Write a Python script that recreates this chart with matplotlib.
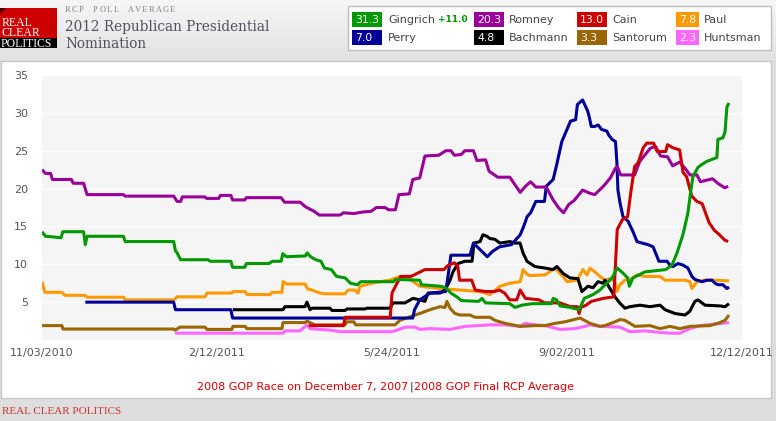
import numpy as np
import pandas as pd
import matplotlib
matplotlib.use('Agg')
import matplotlib.pyplot as plt
from matplotlib.patches import Rectangle, Polygon

# time axis
start_date = '2010-11-03'
end_date = '2011-12-12'
tick_dates = ['2010-11-03', '2011-02-12', '2011-05-24', '2011-09-02', '2011-12-12']
tick_labels = ['11/03/2010', '2/12/2011', '5/24/2011', '9/02/2011', '12/12/2011']
y_ticks = [5, 10, 15, 20, 25, 30, 35]

# RCP averages, x = days after 11/03/2010
romney_days = [0, 2, 5, 6, 17, 18, 24, 26, 47, 48, 76, 78, 80, 81, 94, 95, 102, 103, 109, 110,
               117, 118, 138, 140, 149, 152, 157, 160, 172, 174, 180, 185, 190, 193, 198, 200,
               204, 206, 212, 214, 218, 221, 229, 233, 236, 238, 242, 244, 249, 251, 256, 258,
               263, 270, 273, 276, 279, 282, 285, 291, 295, 298, 301, 304, 307, 312, 316, 319,
               324, 328, 331, 332, 334, 342, 345, 351, 354, 357, 361, 364, 368, 371, 374, 378,
               380, 387, 390, 394, 396]
romney_vals = [22.5, 22.0, 22.0, 21.2, 21.2, 20.7, 20.7, 19.2, 19.2, 19.0, 19.0, 18.3, 18.3, 18.9,
               18.9, 18.7, 18.7, 19.1, 19.1, 18.5, 18.5, 18.8, 18.8, 18.2, 18.2, 17.6, 17.0, 16.5,
               16.5, 16.8, 16.7, 16.9, 17.0, 17.5, 17.5, 17.2, 17.2, 19.2, 19.3, 21.2, 21.4, 24.3,
               24.4, 25.0, 25.0, 24.4, 24.5, 25.0, 25.0, 23.7, 23.8, 22.3, 21.5, 21.5, 20.5, 19.5,
               20.3, 20.9, 20.2, 20.2, 18.5, 17.5, 16.8, 17.9, 18.4, 19.8, 19.4, 19.2, 20.3, 21.4,
               22.7, 22.9, 21.8, 21.8, 23.6, 25.3, 25.6, 24.3, 24.2, 23.0, 23.5, 22.7, 21.8, 21.8,
               20.9, 21.3, 20.7, 20.1, 20.3]

gingrich_days = [0, 2, 7, 11, 12, 24, 25, 26, 47, 48, 76, 77, 78, 80, 96, 97, 109, 110, 117, 118,
                 131, 133, 138, 139, 141, 152, 153, 155, 158, 161, 163, 167, 170, 175, 178, 182,
                 184, 203, 204, 218, 219, 230, 233, 236, 240, 242, 252, 254, 256, 270, 273, 277,
                 283, 294, 295, 297, 299, 305, 310, 313, 318, 322, 325, 329, 332, 335, 338, 339,
                 341, 348, 360, 363.6, 366.5, 369.9, 372.8, 374.5, 375.7, 378.6, 380.9, 383.8,
                 389.5, 390.1, 393, 394.2, 395.3, 396.5]
gingrich_vals = [14.3, 13.7, 13.6, 13.5, 14.3, 14.3, 12.6, 13.7, 13.7, 13.0, 13.0, 11.8, 11.5,
                 10.6, 10.6, 10.4, 10.4, 9.6, 9.6, 10.1, 10.1, 10.4, 10.4, 11.4, 11.0, 11.1, 11.5,
                 11.0, 10.6, 10.4, 9.5, 9.3, 8.4, 8.2, 7.5, 7.3, 7.7, 7.7, 8.0, 7.9, 7.3, 7.1, 6.9,
                 6.2, 5.6, 5.2, 5.1, 5.5, 4.9, 4.8, 4.3, 4.6, 4.8, 4.8, 5.5, 5.3, 4.5, 4.3, 4.0,
                 5.5, 6.0, 6.6, 7.3, 8.2, 9.5, 8.9, 8.2, 7.1, 8.2, 9.0, 9.3, 9.9, 11.5, 13.9, 16.8,
                 19.8, 21.6, 22.8, 23.2, 23.6, 24.1, 26.5, 26.7, 27.5, 30.8, 31.3]

cain_days = [154, 174, 175, 201, 202, 204, 207, 213, 221, 232, 234, 238, 240, 241, 248, 250, 256,
             261, 264, 267, 270, 274, 276, 279, 287, 290, 299, 305, 309, 310, 311, 314, 317, 324,
             330, 332, 335, 338, 340, 342, 344, 347, 349, 353, 355, 360, 361, 364, 368, 370, 372,
             375, 378, 381, 385, 388, 391, 394, 396]
cain_vals = [1.9, 1.9, 3.0, 3.0, 6.2, 7.1, 8.4, 8.4, 9.3, 9.3, 9.8, 10.2, 9.7, 7.9, 7.9, 6.6, 6.4,
             6.4, 6.6, 6.2, 5.3, 5.3, 6.6, 5.5, 5.3, 4.9, 4.9, 4.4, 4.4, 3.5, 4.3, 4.6, 5.1, 5.5,
             5.7, 14.6, 15.9, 16.3, 19.8, 22.9, 23.4, 25.4, 26.0, 26.0, 24.9, 24.9, 25.8, 25.4,
             25.1, 22.1, 21.6, 19.0, 18.3, 18.0, 15.5, 14.5, 13.9, 13.2, 13.0]

paul_days = [0, 1.7, 11.5, 13.3, 24.8, 26, 47.3, 47.9, 76.2, 77.9, 94.1, 95.2, 109.6, 110.2, 117.2,
             118.3, 131.6, 132.7, 138.5, 139.1, 141.4, 151.8, 153.5, 154.7, 160.4, 163.3, 174.9,
             176.6, 180.6, 182.4, 183.5, 192.2, 200.8, 206.6, 212.4, 218.1, 229.7, 241.2, 252.8,
             258.5, 264.3, 270.1, 275.9, 277, 277.6, 279.9, 281.6, 290.3, 296.1, 298.9, 300.7,
             303, 308.8, 310.5, 312.2, 314.5, 316.3, 319.1, 322, 324.9, 327.8, 330.7, 331.8,
             333.6, 336.4, 340.5, 343.4, 348, 356.7, 359.6, 371.1, 373.9, 375.1, 378, 382.6,
             388.4, 396.5]
paul_vals = [7.7, 6.3, 6.3, 5.9, 5.9, 5.65, 5.65, 5.3, 5.3, 5.7, 5.7, 6.2, 6.2, 6.4, 6.4, 6.0, 6.0,
             6.3, 6.3, 7.7, 7.4, 7.4, 6.7, 6.7, 6.2, 6.1, 6.1, 6.6, 6.6, 6.2, 7.1, 7.6, 7.9, 8.4,
             8.0, 7.1, 6.8, 6.6, 6.4, 6.0, 7.1, 7.5, 7.7, 8.6, 9.3, 8.7, 8.5, 8.6, 9.5, 8.8, 8.4,
             7.7, 7.9, 8.6, 9.3, 8.6, 9.5, 9.0, 8.4, 7.9, 8.1, 7.7, 6.4, 7.3, 7.9, 8.1, 8.6, 8.4,
             8.4, 7.9, 7.9, 7.7, 6.8, 7.7, 7.9, 7.9, 7.8]

perry_days = [25, 76, 77, 109, 110, 214, 215, 218, 224, 233, 234, 236, 247, 249, 253, 257, 260,
              264, 271, 276, 278, 280, 282, 285, 290, 291, 295, 297, 300, 305, 308, 309, 312, 315,
              316, 317, 319, 321, 323, 326, 327, 329, 331, 331.8, 332.4, 333.6, 335.3, 338.2,
              341.1, 343.4, 346.3, 349.7, 352.7, 355, 356, 360.7, 362.4, 364.2, 367, 369.9, 372.8,
              375.1, 376.8, 380.9, 383.8, 386.7, 388.4, 390.1, 393, 395.3, 396.5]
perry_vals = [5.0, 5.0, 4.0, 4.0, 2.9, 2.9, 4.0, 5.3, 6.2, 6.4, 7.9, 11.2, 11.2, 12.8, 11.9, 11.0,
              11.7, 12.3, 12.6, 13.9, 15.0, 16.3, 16.8, 18.3, 18.3, 20.3, 21.2, 23.1, 26.2, 28.9,
              29.1, 31.1, 31.7, 30.2, 29.3, 28.2, 28.2, 28.4, 27.8, 27.6, 27.1, 26.5, 26.2, 23.4,
              19.8, 18.1, 16.3, 15.7, 14.3, 13.0, 12.8, 12.6, 12.3, 11.0, 10.4, 10.4, 9.9, 9.7,
              10.1, 9.9, 9.5, 8.4, 8.0, 7.7, 7.9, 7.9, 7.5, 7.3, 7.3, 6.8, 7.0]

bachmann_days = [110.2, 139.1, 140.2, 151.8, 152.9, 154.7, 155.8, 166.2, 167.4, 174.9, 176, 186.4,
                 187.5, 200.8, 202.6, 209.5, 214.1, 218.1, 221, 222.8, 229.7, 232.6, 233.7, 235.5,
                 237.2, 240.1, 244.1, 248.2, 249.3, 252.8, 254.5, 256.8, 258.5, 261.4, 264.3,
                 270.1, 273, 275.9, 277.6, 279.9, 284.5, 290.3, 294.9, 297.2, 300.7, 304.7, 309.3,
                 311.6, 315.1, 318, 320.9, 323.8, 324.9, 327.8, 330.7, 333.6, 336.4, 339.3, 345.1,
                 350.9, 356.7, 359.6, 365.3, 371.1, 373.9, 376.8, 378.6, 382.6, 391.3, 394.2, 396.5]
bachmann_vals = [4.0, 4.0, 4.4, 4.4, 5.0, 4.0, 4.2, 4.2, 3.9, 3.9, 4.1, 4.1, 4.2, 4.2, 4.9, 4.9,
                 5.5, 5.3, 5.1, 6.2, 6.2, 6.6, 7.1, 7.9, 9.0, 10.1, 10.4, 10.4, 12.8, 13.0, 13.9,
                 13.7, 13.4, 13.3, 12.8, 13.0, 12.8, 12.8, 11.5, 10.4, 9.7, 9.5, 9.3, 9.7, 8.8, 8.2,
                 8.1, 6.4, 7.1, 6.9, 7.7, 7.5, 7.9, 6.8, 5.7, 4.85, 4.2, 4.4, 4.6, 4.4, 4.6, 4.0,
                 3.5, 3.3, 3.8, 5.1, 5.3, 4.6, 4.5, 4.4, 4.8]

santorum_days = [0, 11.5, 12.1, 76.2, 76.8, 79.6, 94.1, 95.2, 109.6, 110.2, 117.2, 118.3, 138.5,
                 139.1, 151.8, 152.9, 154.7, 157.5, 174.9, 176, 180, 181, 203.7, 206.6, 215.3,
                 218.1, 223.9, 229.7, 232.6, 233.7, 235.5, 238.3, 241.2, 247, 249.9, 258.5, 261.4,
                 267.2, 275.9, 284.5, 290.3, 296.1, 301.8, 310.5, 316.3, 322, 324.9, 330.7, 333.6,
                 336.4, 339.3, 342.2, 350.9, 356.7, 362.4, 368.2, 373.9, 385.5, 391.3, 394.2, 396.5]
santorum_vals = [1.9, 1.9, 1.45, 1.45, 1.3, 1.7, 1.7, 1.4, 1.4, 1.8, 1.8, 1.5, 1.5, 2.3, 2.3, 2.5,
                 2.3, 2.0, 2.0, 2.4, 2.4, 2.0, 2.0, 2.6, 3.3, 3.5, 4.0, 4.4, 4.3, 5.1, 4.2, 3.5,
                 3.3, 3.3, 3.0, 3.0, 2.6, 2.2, 1.8, 1.9, 1.9, 2.2, 2.4, 2.9, 2.2, 1.8, 1.9, 2.4,
                 2.7, 2.6, 2.2, 1.8, 1.9, 1.5, 1.8, 1.5, 1.8, 1.9, 2.3, 2.6, 3.3]

huntsman_days = [76.8, 139.1, 140.2, 148.9, 152.9, 154.7, 166.2, 172, 200.8, 203.7, 209.5, 215.3,
                 218.1, 223.9, 235.5, 244.1, 258.5, 267.2, 275.9, 278.7, 284.5, 290.3, 298.9,
                 307.6, 313.4, 316.3, 322, 333.6, 339.3, 348, 356.7, 362.4, 368.2, 373.9, 379.7,
                 388.4, 396.5]
huntsman_vals = [0.9, 0.9, 1.2, 1.2, 2.0, 1.5, 1.3, 1.1, 1.1, 1.2, 1.7, 1.7, 1.4, 1.5, 1.4, 1.8,
                 2.0, 2.0, 1.8, 2.2, 2.0, 1.9, 1.4, 1.5, 1.8, 2.0, 1.8, 1.7, 1.1, 1.2, 1.0, 0.9,
                 0.9, 1.5, 1.9, 2.1, 2.3]

# legend (latest RCP average)
legend_names = ['Gingrich', 'Romney', 'Cain', 'Paul', 'Perry', 'Bachmann', 'Santorum', 'Huntsman']
legend_values = ['31.3', '20.3', '13.0', '7.8', '7.0', '4.8', '3.3', '2.3']
gingrich_change = '+11.0'

colors = {
    'Gingrich': '#009900', 'Romney': '#990099', 'Cain': '#cc0000', 'Paul': '#ff9900',
    'Perry': '#000099', 'Bachmann': '#000000', 'Santorum': '#996600', 'Huntsman': '#ff66ff',
}

series = [
    ('Huntsman', huntsman_days, huntsman_vals),
    ('Santorum', santorum_days, santorum_vals),
    ('Paul', paul_days, paul_vals),
    ('Bachmann', bachmann_days, bachmann_vals),
    ('Perry', perry_days, perry_vals),
    ('Romney', romney_days, romney_vals),
    ('Cain', cain_days, cain_vals),
    ('Gingrich', gingrich_days, gingrich_vals),
]

W, H = 776, 421
fig = plt.figure(figsize=(W / 100, H / 100), dpi=100)
fig.patch.set_facecolor('#dedede')

# page furniture, drawn in pixel coordinates
bg = fig.add_axes([0, 0, 1, 1], zorder=0)
bg.axis('off')
grad = np.linspace(0, 1, 64).reshape(-1, 1)
hdr_cmap = matplotlib.colors.LinearSegmentedColormap.from_list('hdr', ['#f6f6f6', '#e2e2e2'])
bg.imshow(grad, extent=(0, W, 61, 0), aspect='auto', cmap=hdr_cmap)
bg.set_xlim(0, W)
bg.set_ylim(H, 0)

# white chart panel
bg.add_patch(Rectangle((1, 61), 770, 337, facecolor='white', edgecolor='#c8c8c8', lw=1))

# logo
bg.add_patch(Rectangle((0, 8), 57, 30, facecolor='#cc0000', edgecolor='none'))
bg.add_patch(Rectangle((0, 38), 57, 10, facecolor='#000000', edgecolor='none'))
bg.add_patch(Polygon([(0, 8), (6, 8), (0, 14)], facecolor='#550000', edgecolor='none'))
bg.text(1.5, 36, 'REAL\nCLEAR', family='Liberation Serif', color='white', fontsize=8.5,
        va='baseline', linespacing=0.82)
bg.text(1, 47, 'POLITICS', family='Liberation Serif', color='white', fontsize=8.5, va='baseline')

# header texts
for i, ch in enumerate('RCP POLL AVERAGE'):
    bg.text(65 + i * 7.0, 12.5, ch, family='Liberation Serif', fontsize=6, color='#808080', va='baseline')
bg.text(65, 31, '2012 Republican Presidential', family='DejaVu Serif', fontsize=9.8,
        color='#4f5360', va='baseline')
bg.text(65, 48, 'Nomination', family='DejaVu Serif', fontsize=9.8, color='#4f5360', va='baseline')

# legend box
bg.add_patch(Rectangle((348, 6), 423, 44, facecolor='white', edgecolor='#bdbdbd', lw=1))
box_x = [352, 474, 577, 676]
box_w = [30, 30, 30, 23]
name_x = [388, 509, 612.5, 704]
row_y = [12, 30]
for k, (name, val) in enumerate(zip(legend_names, legend_values)):
    r, c = divmod(k, 4)
    bg.add_patch(Rectangle((box_x[c], row_y[r]), box_w[c], 15, facecolor=colors[name], edgecolor='none'))
    bg.text(box_x[c] + 3, row_y[r] + 7.8, val, color='white', fontsize=7.8, va='center', ha='left')
    bg.text(name_x[c], row_y[r] + 7.8, name, color='#444444', fontsize=8, va='center', ha='left')
bg.text(438, 20, gingrich_change, color='#009900', fontsize=6.5, fontweight='bold', va='center')

# footer links
bg.text(408, 387, '2008 GOP Race on December 7, 2007', color='#dd0000', fontsize=8, ha='right', va='center')
bg.text(411, 387, '|', color='#222222', fontsize=8, ha='center', va='center')
bg.text(414, 387, '2008 GOP Final RCP Average', color='#dd0000', fontsize=8, ha='left', va='center')
bg.text(2, 411, 'REAL CLEAR POLITICS', family='Liberation Serif', color='#cc3333', fontsize=8,
        va='center')

# chart
start = pd.Timestamp(start_date)
ax = fig.add_axes([42 / W, 1 - 340 / H, 700 / W, 265 / H], zorder=1)
ax.set_facecolor('#f5f5f5')
for name, days, vals in series:
    x = start + pd.to_timedelta(np.array(days), unit='D')
    ax.plot(x, vals, color=colors[name], lw=2.2, solid_joinstyle='round', solid_capstyle='butt')

ax.set_xlim(start, pd.Timestamp(end_date))
ax.set_ylim(0, 35)
ax.set_yticks(y_ticks)
ax.set_xticks(pd.to_datetime(tick_dates))
ax.set_xticklabels(tick_labels)
ax.yaxis.grid(True, color='white', lw=1)
ax.set_axisbelow(True)
for s in ax.spines.values():
    s.set_visible(False)
ax.tick_params(axis='both', length=0, labelsize=8, labelcolor='#555555')
ax.tick_params(axis='y', pad=10)
ax.tick_params(axis='x', pad=6)

fig.savefig('out.png', dpi=100, facecolor=fig.get_facecolor())
